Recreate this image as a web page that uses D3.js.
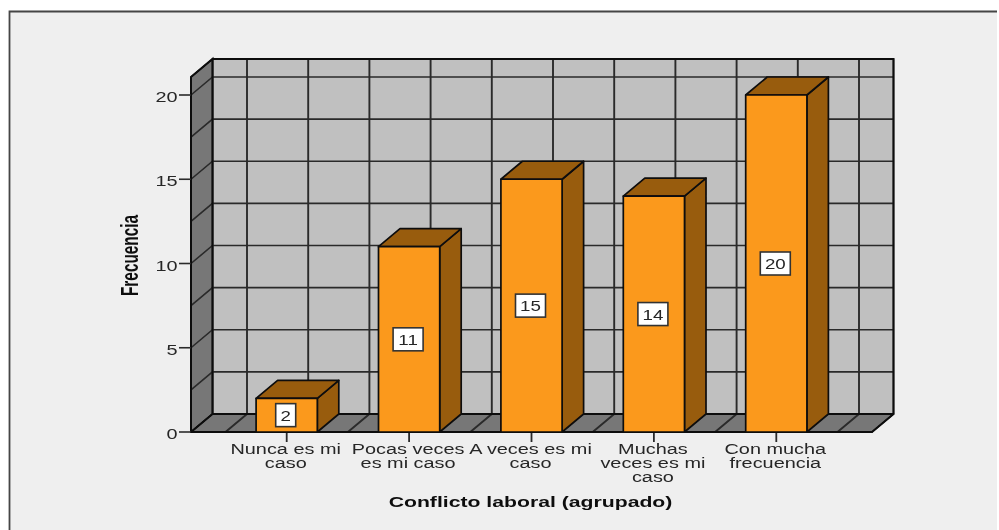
<!DOCTYPE html>
<html><head><meta charset="utf-8">
<script src="https://cdnjs.cloudflare.com/ajax/libs/d3/7.8.5/d3.min.js"></script>
<style>html,body{margin:0;padding:0;background:#fff}svg{display:block}text{font-family:"Liberation Sans",Arial,sans-serif}</style>
</head><body><svg id="c" width="999" height="530"></svg>
<script>
const categories = ["Nunca es mi caso","Pocas veces es mi caso","A veces es mi caso","Muchas veces es mi caso","Con mucha frecuencia"];
const categoryLines = [["Nunca es mi","caso"],["Pocas veces","es mi caso"],["A veces es mi","caso"],["Muchas","veces es mi","caso"],["Con mucha","frecuencia"]];
const values = [2,11,15,14,20];
const yTicks = [0,5,10,15,20];
const yGrid = [0,2.5,5,7.5,10,12.5,15,17.5,20];
const yTitle = "Frecuencia";
const xTitle = "Conflicto laboral (agrupado)";

const W=999,H=530, dx=21.5, dy=18, stretch=1.42;
const colors={bg:"#efefef",wall:"#c0c0c0",side:"#777777",bar:"#fb991d",barDark:"#985b10",ink:"#0d0d0d",grid:"#2a2a2a",text:"#262626"};
const yS=d3.scaleLinear().domain([0,20]).range([432,95]);
const xS=d3.scaleBand().domain(categories).range([225.5,837.5]).paddingInner(0.5).paddingOuter(0.25);
const pLeft=191,pRight=872,pTop=yS(21.07),base=yS(0);
const svg=d3.select("#c");
const defs=svg.append("defs");
defs.append("filter").attr("id","soft").attr("x","-5%").attr("y","-5%").attr("width","110%").attr("height","110%")
  .append("feGaussianBlur").attr("stdDeviation",0.4);
const g=svg.append("g").attr("filter","url(#soft)");

// frame
g.append("path").attr("d",`M9.5,${H+5}V11.5H997V${H+5}`).attr("fill",colors.bg).attr("stroke","none");
g.append("path").attr("d",`M9.5,${H+5}V11.5H997`).attr("fill","none").attr("stroke","#444").attr("stroke-width",1.8);

// walls
const poly=(pts,fill,sw=1.5)=>g.append("polygon").attr("points",pts.map(p=>p.join(",")).join(" ")).attr("fill",fill).attr("stroke",colors.ink).attr("stroke-width",sw).attr("stroke-linejoin","round");
poly([[pLeft+dx,pTop-dy],[pRight+dx,pTop-dy],[pRight+dx,base-dy],[pLeft+dx,base-dy]],colors.wall);
poly([[pLeft,pTop],[pLeft+dx,pTop-dy],[pLeft+dx,base-dy],[pLeft,base]],colors.side);
poly([[pLeft,base],[pLeft+dx,base-dy],[pRight+dx,base-dy],[pRight,base]],colors.side);

// grid: horizontal on back & left wall
const gridG=g.append("g").attr("stroke",colors.grid).attr("stroke-width",1.6).attr("fill","none");
yGrid.slice(1).forEach(v=>{
  gridG.append("path").attr("d",`M${pLeft},${yS(v)}L${pLeft+dx},${yS(v)-dy}H${pRight+dx}`);
});
// grid: vertical on back wall and across floor, at band edges and centres
const gx=d3.range(0,11).map(i=>xS.range()[0]+i*xS.step()/2);
gx.forEach(px=>{
  gridG.append("path").attr("d",`M${px+dx},${pTop-dy}V${base-dy}L${px},${base}`).attr("stroke-width",1.9);
});
g.append("path").attr("d",`M${pLeft+dx},${pTop-dy}H${pRight+dx}V${base-dy}L${pRight},${base}H${pLeft}V${pTop}L${pLeft+dx},${pTop-dy}V${base-dy}H${pRight+dx}M${pLeft},${base}L${pLeft+dx},${base-dy}`).attr("fill","none").attr("stroke",colors.ink).attr("stroke-width",2);

// axis ticks
const axG=g.append("g");
axG.selectAll("line.yt").data(yTicks).join("line").attr("x1",179).attr("x2",pLeft).attr("y1",d=>yS(d)).attr("y2",d=>yS(d)).attr("stroke",colors.grid).attr("stroke-width",1.6);
axG.selectAll("line.xt").data(categories).join("line").attr("x1",d=>xS(d)+xS.bandwidth()/2).attr("x2",d=>xS(d)+xS.bandwidth()/2).attr("y1",base+1).attr("y2",base+10).attr("stroke",colors.grid).attr("stroke-width",1.8);

const stretched=(sel,px,py,s)=>sel.attr("transform",`translate(${px},${py}) scale(${s},1)`);
yTicks.forEach(v=>{
  stretched(axG.append("text").text(v).attr("text-anchor","end").attr("font-size",14).attr("fill",colors.text),177.5,yS(v)+7,stretch);
});
categoryLines.forEach((lines,i)=>{
  const cx=xS(categories[i])+xS.bandwidth()/2-1;
  lines.forEach((t,j)=>{
    stretched(axG.append("text").text(t).attr("text-anchor","middle").attr("font-size",14).attr("fill",colors.text),cx,454+j*14,stretch);
  });
});

// bars
const bars=g.selectAll("g.bar").data(categories.map((c,i)=>({c,v:values[i]}))).join("g").attr("class","bar");
bars.each(function(d){
  const b=d3.select(this),x0=xS(d.c),x1=x0+xS.bandwidth(),yt=yS(d.v);
  const pg=(pts,fill)=>b.append("polygon").attr("points",pts.map(p=>p.join(",")).join(" ")).attr("fill",fill).attr("stroke",colors.ink).attr("stroke-width",1.7).attr("stroke-linejoin","round");
  pg([[x1,base],[x1,yt],[x1+dx,yt-dy],[x1+dx,base-dy]],colors.barDark);
  pg([[x0,yt],[x0+dx,yt-dy],[x1+dx,yt-dy],[x1,yt]],colors.barDark);
  pg([[x0,base],[x0,yt],[x1,yt],[x1,base]],colors.bar);
  const s=String(d.v), bw=s.length>1?30:20, cx=(x0+x1)/2-1, cy=yS(d.v/2);
  b.append("rect").attr("x",cx-bw/2).attr("y",cy-11.5).attr("width",bw).attr("height",23).attr("fill","#fff").attr("stroke","#333").attr("stroke-width",1.6);
  stretched(b.append("text").text(s).attr("text-anchor","middle").attr("font-size",15).attr("fill",colors.text),cx,cy+5.5,1.25);
});

// titles
g.append("text").text(xTitle).attr("text-anchor","middle").attr("font-size",15.5).attr("font-weight","bold").attr("fill","#111")
  .attr("transform",`translate(530.5,507) scale(1.368,1)`);
g.append("text").text(yTitle).attr("text-anchor","middle").attr("font-size",24).attr("font-weight","bold").attr("fill","#111")
  .attr("transform",`translate(138,255.5) rotate(-90) scale(0.64,1)`);
</script></body></html>
